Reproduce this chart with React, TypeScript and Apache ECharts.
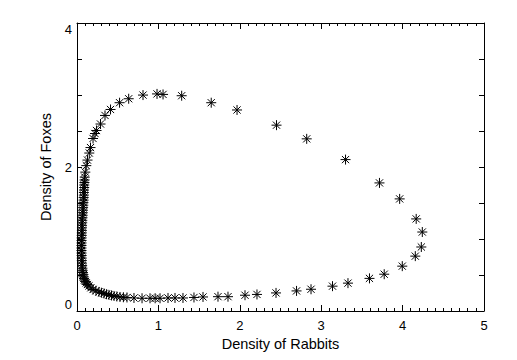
import React, { useEffect, useRef } from "react";
import * as echarts from "echarts";

const rabbits = [
  0.080, 0.086, 0.092, 0.101, 0.113, 0.128, 0.147, 0.170, 0.197, 0.233,
  0.270, 0.300, 0.332, 0.362, 0.393, 0.424, 0.455, 0.490, 0.528, 0.570,
  0.614, 0.700, 0.799, 0.897, 0.960, 1.020, 1.118, 1.204, 1.302, 1.437,
  1.548, 1.732, 1.855, 2.064, 2.211, 2.445, 2.697, 2.875, 3.139, 3.329,
  3.593, 3.774, 3.996, 4.156, 4.230, 4.242, 4.167, 3.964, 3.716, 3.299,
  2.822, 2.451, 1.966, 1.649, 1.286, 1.057, 0.983, 0.811, 0.635, 0.523,
  0.412, 0.344, 0.289, 0.240, 0.221, 0.197, 0.166, 0.151, 0.129, 0.114,
  0.102, 0.095,
  0.093, 0.091, 0.089, 0.088, 0.086, 0.085, 0.084, 0.082, 0.081, 0.079,
  0.077, 0.075, 0.073, 0.071, 0.069, 0.067, 0.065, 0.064, 0.062, 0.061,
  0.060, 0.059, 0.058, 0.057, 0.056, 0.056, 0.055, 0.055, 0.055, 0.056,
  0.057, 0.058, 0.059, 0.061, 0.063, 0.066, 0.069, 0.073, 0.078,
];

const foxes = [
  0.474, 0.452, 0.432, 0.411, 0.390, 0.368, 0.348, 0.322, 0.299, 0.281,
  0.265, 0.254, 0.244, 0.233, 0.223, 0.216, 0.209, 0.202, 0.195, 0.191,
  0.188, 0.181, 0.177, 0.177, 0.177, 0.177, 0.181, 0.181, 0.181, 0.188,
  0.195, 0.199, 0.199, 0.219, 0.230, 0.251, 0.279, 0.302, 0.345, 0.387,
  0.453, 0.511, 0.623, 0.762, 0.889, 1.097, 1.279, 1.557, 1.779, 2.103,
  2.391, 2.581, 2.792, 2.893, 2.990, 3.008, 3.015, 2.999, 2.948, 2.893,
  2.799, 2.716, 2.597, 2.507, 2.465, 2.396, 2.270, 2.194, 2.096, 2.019,
  1.929, 1.859,
  1.820, 1.785, 1.750, 1.715, 1.680, 1.645, 1.610, 1.575, 1.540, 1.505,
  1.470, 1.435, 1.400, 1.365, 1.330, 1.295, 1.260, 1.225, 1.190, 1.155,
  1.120, 1.085, 1.050, 1.015, 0.980, 0.945, 0.910, 0.875, 0.840, 0.805,
  0.770, 0.735, 0.700, 0.665, 0.630, 0.595, 0.565, 0.535, 0.505,
];

const xTickLabels = ["0", "1", "2", "3", "4", "5"];
const yTickLabels = ["0", "2", "4"];

const FONT = "'Liberation Sans', Arial, Helvetica, sans-serif";
const ASTERISK = "path://M0,5H10M5,0V10M1.4,1.4L8.6,8.6M8.6,1.4L1.4,8.6";

export default function App() {
  const ref = useRef<HTMLDivElement>(null);

  useEffect(() => {
    if (!ref.current) return;
    const chart = echarts.init(ref.current, null, { renderer: "svg" });

    const black = "#000";
    const baseX = {
      type: "value" as const,
      min: 0,
      max: 5,
      interval: 1,
      axisLine: { show: true, onZero: false, lineStyle: { color: black, width: 1 } },
      axisTick: { show: true, inside: true, length: 6, lineStyle: { color: black } },
      minorTick: { show: true, splitNumber: 10, length: 3, lineStyle: { color: black } },
      splitLine: { show: false },
      minorSplitLine: { show: false },
    };
    const baseY = {
      type: "value" as const,
      min: 0,
      max: 4,
      interval: 0.5,
      axisLine: { show: true, onZero: false, lineStyle: { color: black, width: 1 } },
      axisTick: { show: true, inside: true, length: 5, lineStyle: { color: black } },
      splitLine: { show: false },
    };

    chart.setOption({
      animation: false,
      backgroundColor: "#fff",
      grid: { left: 77, right: 33, top: 23, bottom: 49, containLabel: false },
      xAxis: [
        {
          ...baseX,
          position: "bottom",
          name: "Density of Rabbits",
          nameLocation: "middle",
          nameGap: 24,
          nameTextStyle: { color: black, fontSize: 14.5, fontFamily: FONT },
          axisLabel: {
            show: true,
            color: black,
            fontSize: 13,
            fontFamily: FONT,
            margin: 8,
            formatter: (v: number) => {
              const i = Math.round(v);
              return Math.abs(v - i) < 1e-9 ? xTickLabels[i] ?? "" : "";
            },
          },
        },
        {
          ...baseX,
          position: "top",
          axisLabel: { show: false },
        },
      ],
      yAxis: [
        {
          ...baseY,
          position: "left",
          name: "Density of Foxes",
          nameLocation: "middle",
          nameGap: 23,
          nameRotate: 90,
          nameTextStyle: { color: black, fontSize: 14.5, fontFamily: FONT },
          axisLabel: {
            show: true,
            color: black,
            fontSize: 13,
            fontFamily: FONT,
            margin: 5,
            verticalAlignMinLabel: "bottom",
            verticalAlignMaxLabel: "top",
            formatter: (v: number) => {
              const idx = yTickLabels.indexOf(String(v));
              return idx >= 0 ? yTickLabels[idx] : "";
            },
          },
        },
        {
          ...baseY,
          position: "right",
          axisLabel: { show: false },
        },
      ],
      series: [
        {
          type: "scatter",
          xAxisIndex: 0,
          yAxisIndex: 0,
          data: rabbits.map((r, i) => [r, foxes[i]]),
          symbol: ASTERISK,
          symbolSize: 10,
          itemStyle: { color: "transparent", borderColor: black, borderWidth: 1, opacity: 1 },
          emphasis: { disabled: true },
        },
      ],
    });

    return () => chart.dispose();
  }, []);

  return (
    <div
      ref={ref}
      style={{ position: "absolute", left: 0, top: 0, width: 517, height: 360, background: "#fff" }}
    />
  );
}
